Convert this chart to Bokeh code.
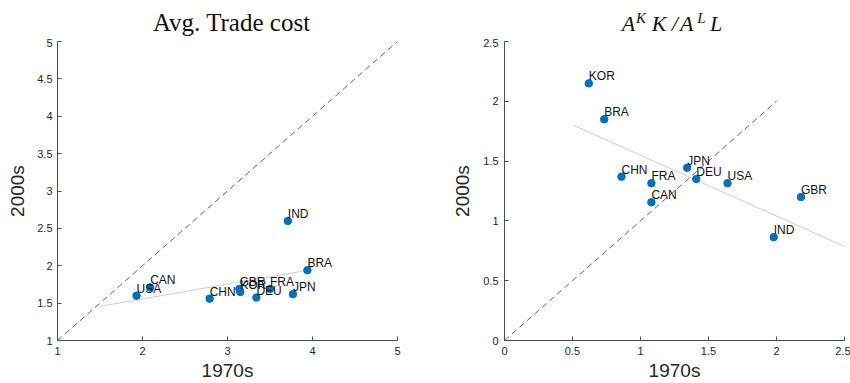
from bokeh.plotting import figure
from bokeh.models import Range1d, FixedTicker, NumeralTickFormatter, ColumnDataSource, Div
from bokeh.layouts import row, column
from bokeh.embed import file_html
from bokeh.resources import INLINE
from bokeh.core.properties import value

# ---------------- data: left panel (Avg. Trade cost) ----------------
trade_countries = ["USA", "CAN", "CHN", "GBR", "KOR", "DEU", "FRA", "JPN", "BRA", "IND"]
trade_1970s = [1.93, 2.09, 2.79, 3.14, 3.15, 3.34, 3.50, 3.77, 3.94, 3.71]
trade_2000s = [1.60, 1.71, 1.56, 1.69, 1.65, 1.575, 1.69, 1.62, 1.94, 2.60]
trade_fit_x = [1.49, 3.94]
trade_fit_y = [1.455, 1.94]
trade_diag = [1, 5]
trade_xticks = [1, 2, 3, 4, 5]
trade_yticks = [1, 1.5, 2, 2.5, 3, 3.5, 4, 4.5, 5]

# ---------------- data: right panel (A^K K / A^L L) ----------------
ak_countries = ["KOR", "BRA", "CHN", "FRA", "CAN", "JPN", "DEU", "USA", "GBR", "IND"]
ak_1970s = [0.62, 0.733, 0.86, 1.08, 1.08, 1.343, 1.41, 1.64, 2.18, 1.98]
ak_2000s = [2.15, 1.85, 1.37, 1.315, 1.156, 1.444, 1.35, 1.315, 1.20, 0.864]
ak_fit_x = [0.507, 2.5]
ak_fit_y = [1.80, 0.786]
ak_diag = [0, 2]
ak_xticks = [0, 0.5, 1, 1.5, 2, 2.5]
ak_yticks = [0, 0.5, 1, 1.5, 2, 2.5]

DOT = "#0072BD"
AXC = "#4d4d4d"
SANS = "Liberation Sans"
SERIF = "Liberation Serif"
TITLE_H = 38


def make_fig(width, bl, br, xr, yr, xt, yt, ylab_standoff):
    p = figure(width=width, height=383 - TITLE_H, x_range=Range1d(*xr), y_range=Range1d(*yr),
               output_backend="svg", toolbar_location=None,
               min_border_left=bl, min_border_right=br, min_border_top=3, min_border_bottom=43)
    p.outline_line_color = None
    p.grid.visible = False
    p.background_fill_color = "white"
    p.border_fill_color = "white"
    p.xaxis.ticker = FixedTicker(ticks=xt)
    p.yaxis.ticker = FixedTicker(ticks=yt)
    for ax in (p.xaxis, p.yaxis):
        ax.formatter = NumeralTickFormatter(format="0.[0]")
        ax.axis_line_color = AXC
        ax.axis_line_width = 1
        ax.major_tick_line_color = AXC
        ax.major_tick_in = 4
        ax.major_tick_out = 0
        ax.minor_tick_line_color = None
        ax.major_label_text_font = SANS
        ax.major_label_text_font_size = "11px"
        ax.major_label_text_color = "#262626"
        ax.axis_label_text_font = SANS
        ax.axis_label_text_font_size = "19px"
        ax.axis_label_text_font_style = "normal"
        ax.axis_label_text_color = "#262626"
    p.xaxis.axis_label = "1970s"
    p.yaxis.axis_label = "2000s"
    p.xaxis.major_label_standoff = 6
    p.xaxis.axis_label_standoff = 2
    p.yaxis.major_label_standoff = 5
    p.yaxis.axis_label_standoff = ylab_standoff
    return p


def add_points(p, xs, ys, names):
    src = ColumnDataSource(dict(x=xs, y=ys, name=names))
    p.scatter("x", "y", source=src, size=7.5, fill_color=DOT, line_color=DOT)
    p.text("x", "y", text="name", source=src, text_font=value(SANS), text_font_size="12px",
           text_color="#111111", text_align="left", text_baseline="alphabetic", y_offset=-7)


def span(txt, left, top, size, italic=False):
    style = ("position:absolute; white-space:nowrap; line-height:1; color:#111111; "
             f"font-family:'{SERIF}'; font-size:{size}px; left:{left}px; top:{top}px;")
    if italic:
        style += " font-style:italic;"
    return f'<span style="{style}">{txt}</span>'


# ---------------- left panel ----------------
p1 = make_fig(430, 57, 33, (1, 5), (1, 5), trade_xticks, trade_yticks, 6)
p1.line(trade_diag, trade_diag, line_color="#333333", line_width=0.8, line_dash="6 4")
p1.line(trade_fit_x, trade_fit_y, line_color="#cccccc", line_width=1)
add_points(p1, trade_1970s, trade_2000s, trade_countries)

t1_html = ('<div style="position:relative; width:430px; height:38px;">'
           f'<div style="position:absolute; left:0px; top:10px; width:463px; text-align:center; '
           f'white-space:nowrap; line-height:1; color:#111111; font-family:\'{SERIF}\'; font-size:25px;">'
           'Avg. Trade cost</div></div>')
d1 = Div(text=t1_html, width=430, height=TITLE_H, margin=0)

# ---------------- right panel ----------------
p2 = make_fig(420, 74, 6, (0, 2.5), (0, 2.5), ak_xticks, ak_yticks, 7)
p2.yaxis.major_label_standoff = 6
p2.line(ak_diag, ak_diag, line_color="#333333", line_width=0.8, line_dash="6 4")
p2.line(ak_fit_x, ak_fit_y, line_color="#cccccc", line_width=1)
add_points(p2, ak_1970s, ak_2000s, ak_countries)

title_parts = [("A", 191.7, 13.3, 22), ("K", 206, 10.7, 15), ("K", 221.7, 13.3, 22),
               ("/", 241.7, 13.3, 22), ("A", 250, 13.3, 22), ("L", 267.3, 10.7, 15),
               ("L", 280, 13.3, 22)]
t2_html = ('<div style="position:relative; width:420px; height:38px;">'
           + "".join(span(t, x, y, s, italic=True) for t, x, y, s in title_parts)
           + '</div>')
d2 = Div(text=t2_html, width=420, height=TITLE_H, margin=0)

layout = row(column(d1, p1), column(d2, p2))
open("out.html", "w").write(file_html(layout, INLINE))
